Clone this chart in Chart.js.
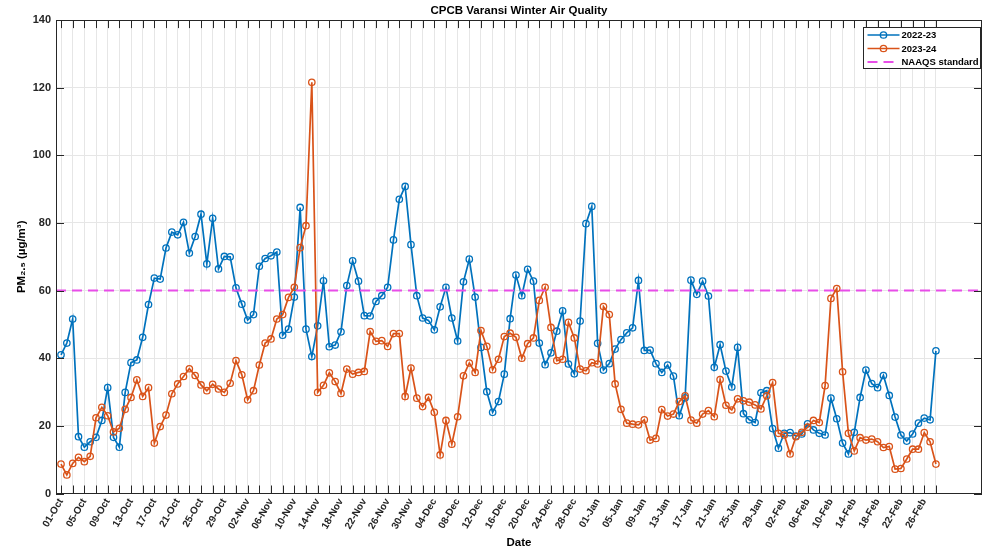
<!DOCTYPE html>
<html>
<head>
<meta charset="utf-8">
<script src="https://cdn.jsdelivr.net/npm/chart.js@4/dist/chart.umd.min.js"></script>
<style>
html,body{margin:0;padding:0;background:#fff;}
#wrap{width:987px;height:551px;position:relative;}
</style>
</head>
<body>
<div id="wrap"><canvas id="c" width="987" height="551"></canvas></div>
<script>
// ---- data ----
const tickLabels = ['01-Oct','05-Oct','09-Oct','13-Oct','17-Oct','21-Oct','25-Oct','29-Oct',
  '02-Nov','06-Nov','10-Nov','14-Nov','18-Nov','22-Nov','26-Nov','30-Nov',
  '04-Dec','08-Dec','12-Dec','16-Dec','20-Dec','24-Dec','28-Dec',
  '01-Jan','05-Jan','09-Jan','13-Jan','17-Jan','21-Jan','25-Jan','29-Jan',
  '02-Feb','06-Feb','10-Feb','14-Feb','18-Feb','22-Feb','26-Feb'];

const season2022 = [41.0,44.5,51.6,16.8,13.7,15.3,16.6,21.6,31.3,16.6,
  13.7,29.9,38.7,39.5,46.2,55.9,63.7,63.4,72.6,77.3,
  76.5,80.2,71.1,76.0,82.6,67.9,81.4,66.4,70.1,70.0,
  60.8,56.0,51.3,52.9,67.2,69.5,70.3,71.4,46.8,48.6,
  58.1,84.6,48.6,40.5,49.6,62.9,43.4,43.9,47.8,61.5,
  68.8,62.8,52.6,52.5,56.8,58.5,61.0,75.0,87.0,90.8,
  73.6,58.5,51.9,51.2,48.4,55.2,61.0,51.9,45.1,62.6,
  69.3,58.1,43.2,30.1,24.0,27.2,35.3,51.7,64.6,58.5,
  66.3,62.8,44.5,38.1,41.6,48.0,54.0,38.3,35.4,51.0,
  79.8,84.9,44.4,36.5,38.4,42.7,45.5,47.5,49.0,63.0,
  42.3,42.4,38.4,35.8,38.0,34.7,23.0,28.3,63.1,58.9,
  62.8,58.4,37.3,44.0,36.2,31.5,43.2,23.6,21.8,21.0,
  29.8,30.4,19.2,13.4,17.8,18.0,17.0,17.6,20.6,18.8,
  17.8,17.3,28.2,22.1,14.9,11.7,18.1,28.4,36.5,32.5,
  31.3,34.9,29.0,22.6,17.3,15.5,17.6,20.8,22.3,21.8,
  42.2];

const season2023 = [8.7,5.5,8.9,10.7,9.4,11.0,22.4,25.5,23.0,18.2,
  19.3,24.9,28.4,33.6,28.7,31.3,14.9,19.8,23.2,29.5,
  32.4,34.6,36.9,34.9,32.1,30.4,32.3,30.9,29.9,32.6,
  39.3,35.1,27.7,30.4,38.0,44.5,45.7,51.6,52.9,58.0,
  61.0,72.7,79.2,121.6,29.9,32.0,35.7,33.1,29.6,36.8,
  35.3,35.8,36.1,47.9,45.0,45.2,43.5,47.3,47.3,28.7,
  37.1,28.2,25.7,28.4,24.0,11.4,21.6,14.6,22.7,34.8,
  38.6,35.8,48.2,43.5,36.6,39.7,46.4,47.4,46.2,40.0,
  44.3,46.0,57.1,61.0,49.1,39.3,39.7,50.6,46.0,36.8,
  36.3,38.7,38.3,55.3,52.9,32.4,24.9,20.8,20.5,20.3,
  21.8,15.8,16.3,24.8,22.9,23.5,27.2,28.9,21.7,20.8,
  23.5,24.5,22.7,33.7,26.1,24.7,28.0,27.4,27.0,26.2,
  25.0,28.9,32.8,17.8,17.3,11.7,16.8,18.1,19.6,21.6,
  21.0,31.9,57.7,60.6,36.0,17.8,12.6,16.5,15.8,16.1,
  15.3,13.6,13.9,7.2,7.4,10.2,13.1,13.1,18.0,15.3,
  8.7];

const naaqsStandard = 60;
const seriesNames = ['2022-23','2023-24','NAAQS standard'];

// ---- styling / layout ----
const FONT = "'Liberation Sans', Arial, Helvetica, sans-serif";
const BLUE = '#0072BD', ORANGE = '#D95319', MAGENTA = '#E84DE8';
const X_MIN = -0.86, X_MAX = 157.9;
const lastDay = season2022.length - 1;

const toXY = arr => arr.map((v, i) => ({x: i, y: v}));

const lineDs = (label, data, color, order) => ({
  label, data: toXY(data), borderColor: color, backgroundColor: color,
  borderWidth: 1.7, pointRadius: 3.2, pointHoverRadius: 3.2, pointBorderWidth: 1.3,
  pointBackgroundColor: 'rgba(0,0,0,0)', pointBorderColor: color,
  tension: 0, order
});

const axisDeco = {
  id: 'axisDeco',
  afterDatasetsDraw(chart) {
    const {ctx, chartArea: a, scales: {x, y}} = chart;
    ctx.save();
    ctx.strokeStyle = '#262626';
    ctx.lineWidth = 1;
    ctx.beginPath();
    x.ticks.forEach(t => {
      const px = Math.round(x.getPixelForValue(t.value)) + 0.5;
      ctx.moveTo(px, a.bottom); ctx.lineTo(px, a.bottom - 8);
      ctx.moveTo(px, a.top); ctx.lineTo(px, a.top + 8);
    });
    y.ticks.forEach(t => {
      const py = Math.round(y.getPixelForValue(t.value)) + 0.5;
      ctx.moveTo(a.left, py); ctx.lineTo(a.left + 8, py);
      ctx.moveTo(a.right, py); ctx.lineTo(a.right - 8, py);
    });
    ctx.stroke();
    ctx.strokeRect(Math.round(a.left) + 0.5, Math.round(a.top) + 0.5,
                   Math.round(a.right - a.left) - 1, Math.round(a.bottom - a.top));
    ctx.restore();
  }
};

const insideLegend = {
  id: 'insideLegend',
  afterDraw(chart) {
    const {ctx, chartArea: a} = chart;
    const w = 117, h = 41;
    const left = Math.round(a.right - w - 2) + 0.5, top = Math.round(a.top + 7) + 0.5;
    ctx.save();
    ctx.fillStyle = '#fff';
    ctx.fillRect(left, top, w, h);
    ctx.strokeStyle = '#262626';
    ctx.lineWidth = 1;
    ctx.strokeRect(left, top, w, h);
    ctx.font = 'bold 9.5px ' + FONT;
    ctx.textBaseline = 'middle';
    ctx.fillStyle = '#000';
    chart.data.datasets.forEach((ds, i) => {
      const cy = top + 7.5 + i * 13.5;
      ctx.strokeStyle = ds.borderColor;
      ctx.lineWidth = ds.borderWidth;
      ctx.setLineDash(ds.borderDash || []);
      ctx.beginPath();
      ctx.moveTo(left + 4, cy); ctx.lineTo(left + 36, cy);
      ctx.stroke();
      ctx.setLineDash([]);
      if (ds.pointRadius > 0) {
        ctx.lineWidth = ds.pointBorderWidth;
        ctx.beginPath();
        ctx.arc(left + 20, cy, ds.pointRadius, 0, Math.PI * 2);
        ctx.stroke();
      }
      ctx.fillText(ds.label, left + 38, cy + 0.5);
    });
    ctx.restore();
  }
};

const chart = new Chart(document.getElementById('c'), {
  type: 'line',
  data: {
    datasets: [
      lineDs(seriesNames[0], season2022, BLUE, 2),
      lineDs(seriesNames[1], season2023, ORANGE, 1),
      {
        label: seriesNames[2],
        data: [{x: X_MIN, y: naaqsStandard}, {x: X_MAX, y: naaqsStandard}],
        borderColor: MAGENTA, backgroundColor: MAGENTA, borderWidth: 2,
        borderDash: [10, 6], pointRadius: 0, pointHoverRadius: 0, order: 0
      }
    ]
  },
  options: {
    responsive: false,
    animation: false,
    devicePixelRatio: 1,
    layout: {padding: {left: 0, right: 5, top: 0, bottom: 0}},
    plugins: {
      legend: {display: false},
      tooltip: {enabled: false},
      title: {
        display: true,
        text: 'CPCB Varansi Winter Air Quality',
        color: '#000',
        fullSize: false,
        font: {family: FONT, size: 11.5, weight: 'bold'},
        padding: {top: 4, bottom: 2.3}
      }
    },
    scales: {
      x: {
        type: 'linear',
        min: X_MIN, max: X_MAX,
        afterBuildTicks: s => {
          const t = [];
          for (let d = 0; d <= lastDay; d += 2) t.push({value: d});
          s.ticks = t;
        },
        afterFit: s => { s.height = 57.5; },
        ticks: {
          autoSkip: false, maxRotation: 60, minRotation: 60, padding: 3,
          color: '#262626',
          font: {family: FONT, size: 10, weight: 'bold'},
          callback: v => (v % 4 === 0 ? tickLabels[v / 4] : '')
        },
        grid: {color: '#e6e6e6', lineWidth: 1, drawTicks: false},
        border: {display: false},
        title: {
          display: true, text: 'Date', color: '#000',
          font: {family: FONT, size: 11.5, weight: 'bold'},
          padding: {top: 0, bottom: 1}
        }
      },
      y: {
        min: 0, max: 140,
        afterFit: s => { s.width = 56; },
        ticks: {
          stepSize: 20, padding: 5, color: '#262626',
          font: {family: FONT, size: 11, weight: 'bold'}
        },
        grid: {color: '#e6e6e6', lineWidth: 1, drawTicks: false},
        border: {display: false},
        title: {
          display: true, text: 'PM\u2082.\u2085 (\u00B5g/m\u00B3)', color: '#000',
          font: {family: FONT, size: 11.5, weight: 'bold'},
          padding: {top: 15, bottom: 0}
        }
      }
    }
  },
  plugins: [axisDeco, insideLegend]
});
</script>
</body>
</html>
